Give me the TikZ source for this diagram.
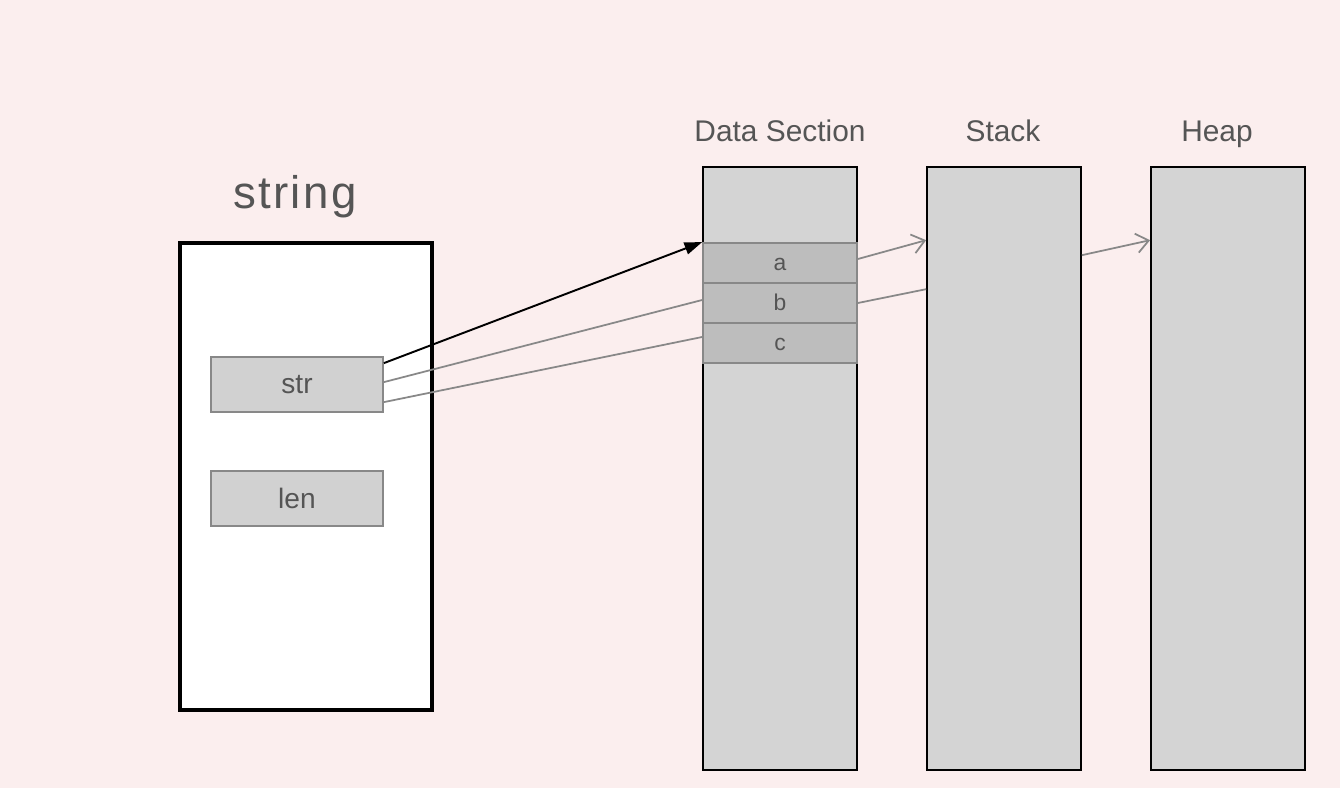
\documentclass[tikz,border=0pt]{standalone}
\usepackage{fontspec}
\setmainfont{Liberation Sans}
\usetikzlibrary{arrows.meta,calc}
\definecolor{bgpink}{HTML}{FBEEEE}
\definecolor{txtgray}{HTML}{555555}
\definecolor{linegray}{HTML}{888888}
\definecolor{colfill}{HTML}{D4D4D4}
\definecolor{cellfill}{HTML}{BDBDBD}
\definecolor{fieldfill}{HTML}{D1D1D1}
\tikzset{
  column/.style={draw=black, line width=1pt, fill=colfill, minimum width=3.08cm, minimum height=12.06cm, inner sep=0pt},
  cell/.style={draw=linegray, line width=1pt, fill=cellfill, minimum width=3.08cm, minimum height=0.8cm, inner sep=0pt, text=txtgray, text height=9pt, text depth=0pt, font=\fontsize{13}{13}\selectfont},
  field/.style={draw=linegray, line width=1pt, fill=fieldfill, minimum width=3.44cm, minimum height=1.1cm, inner sep=0pt, text=txtgray, font=\fontsize{16}{16}\selectfont},
  title/.style={text=txtgray, anchor=base, font=\fontsize{17}{17}\selectfont},
  ptr/.style={line width=1pt, draw=linegray},
}
\begin{document}
\begin{tikzpicture}[x=0.02cm, y=-0.02cm]
      \fill[bgpink] (0,0) rectangle (1340,788);
      \useasboundingbox (0,0) rectangle (1340,788);
      % the string struct
      \node[text=txtgray, font=\fontsize{26}{26}\selectfont\addfontfeature{LetterSpace=5}] (strtitle) at (295,197) {string};
      \node[draw=black, line width=2pt, fill=white, minimum width=5.04cm, minimum height=9.34cm, inner sep=0pt] (strbox) at (306,476.5) {};
      \node[field] (str) at (297,384.5) {str};
      \node[field] (len) at (297,498.5) {len};
      % memory sections
      \node[column] (data) at (780,468.5) {};
      \node[column] (stack) at (1004,468.5) {};
      \node[column] (heap) at (1228,468.5) {};
      \node[title] (datatitle) at (780,141) {Data Section};
      \node[title] (stacktitle) at (1003,141) {Stack};
      \node[title] (heaptitle) at (1217,141) {Heap};
      \node[cell] (a) at (780,263) {a};
      \node[cell] (b) at (780,303) {b};
      \node[cell] (c) at (780,343) {c};
      % pointers
      \draw[line width=1.1pt, -{Triangle[length=10pt,width=7pt]}] ($(str.north east)+(0,7)$) -- (a.north west);
      \draw[ptr] ($(str.north east)+(0,26)$) -- ($(b.west)+(0,-3)$);
      \draw[ptr] ($(str.north east)+(0,46)$) -- ($(c.west)+(0,-6)$);
      \draw[ptr, -{Straight Barb[length=7pt,width=11pt]}] ($(a.east)+(0,-4)$) -- ($(stack.north west)+(0,74)$);
      \draw[ptr] (b.east) -- ($(stack.north west)+(0,123)$);
      \draw[ptr, -{Straight Barb[length=7pt,width=11pt]}] ($(stack.north east)+(0,89)$) -- ($(heap.north west)+(0,74)$);
\end{tikzpicture}
\end{document}
